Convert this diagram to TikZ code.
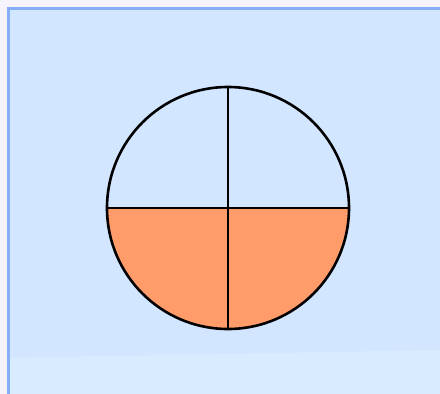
\documentclass[tikz,border=0pt]{standalone}
\usepackage{tikz}

\definecolor{outerbg}{HTML}{F6F3FD}
\definecolor{panelbg}{HTML}{D3E6FF}
\definecolor{panelline}{HTML}{86AEF7}
\definecolor{bandbg}{HTML}{D9ECFF}
\definecolor{halffill}{HTML}{FF9C69}

\begin{document}
\begin{tikzpicture}[x=1pt,y=-1pt]
            \useasboundingbox (0,0) rectangle (440,394);
            \fill[outerbg] (0,0) rectangle (440,394);
            \fill[panelbg] (8,8) rectangle (440,394);
            \fill[bandbg] (8,358) -- (440,350) -- (440,394) -- (8,394) -- cycle;
            \draw[panelline, line width=3pt] (8,394) -- (8,8) -- (440,8);

            \coordinate (O) at (228,208);
            \coordinate (W) at (107,208);
            \coordinate (E) at (349,208);
            \coordinate (N) at (228,87);
            \coordinate (S) at (228,329);

            \fill[halffill] (W) arc[start angle=180, end angle=0, radius=121] -- cycle;
            \draw[line width=2.6pt] (O) circle (121);
            \draw[line width=2.6pt] (W) -- (E);
            \draw[line width=2.6pt] (N) -- (S);
        \end{tikzpicture}
\end{document}
